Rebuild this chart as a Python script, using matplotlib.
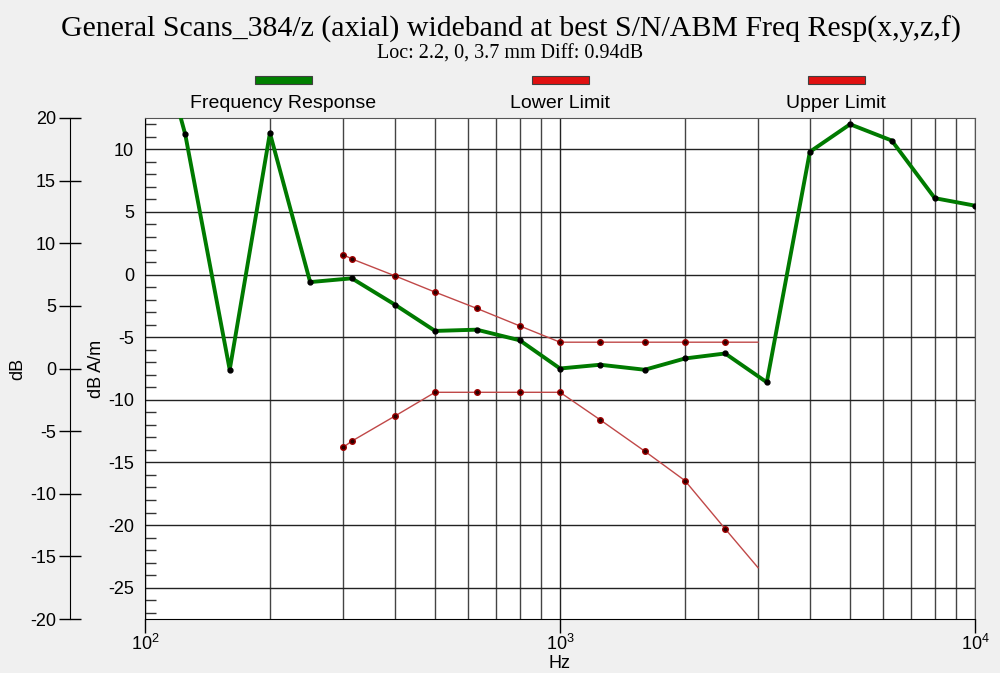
import matplotlib
matplotlib.use('Agg')
import matplotlib.pyplot as plt
from matplotlib.patches import Rectangle
from matplotlib.ticker import LogLocator, MultipleLocator, NullFormatter
import numpy as np

plt.rcParams['font.family'] = ['Liberation Sans', 'DejaVu Sans']
plt.rcParams['mathtext.fontset'] = 'custom'
plt.rcParams['mathtext.rm'] = 'Liberation Sans'
plt.rcParams['axes.unicode_minus'] = False

# 1/3 octave frequency response (dB A/m)
freq_resp_hz = [100, 125, 160, 200, 250, 315, 400, 500, 630, 800, 1000,
                1250, 1600, 2000, 2500, 3150, 4000, 5000, 6300, 8000, 10000]
freq_resp_db = [23.0, 11.2, -7.6, 11.3, -0.6, -0.3, -2.4, -4.5, -4.4, -5.25, -7.5,
                -7.2, -7.6, -6.7, -6.3, -8.6, 9.8, 12.0, 10.7, 6.1, 5.5]

# tolerance limits
limit_hz = [300, 315, 400, 500, 630, 800, 1000, 1250, 1600, 2000, 2500, 3000]
upper_db = [1.6, 1.25, -0.1, -1.4, -2.7, -4.1, -5.4, -5.4, -5.4, -5.4, -5.4, -5.4]
lower_db = [-13.8, -13.3, -11.3, -9.4, -9.4, -9.4, -9.4, -11.6, -14.1, -16.45, -20.3, -23.4]

legend_names = ['Frequency Response', 'Lower Limit', 'Upper Limit']
legend_colors = ['#008000', '#e01010', '#e01010']

title = 'General Scans_384/z (axial) wideband at best S/N/ABM Freq Resp(x,y,z,f)'
subtitle = 'Loc: 2.2, 0, 3.7 mm Diff: 0.94dB'

W, H = 1000, 673
fig = plt.figure(figsize=(W / 100, H / 100), dpi=100, facecolor='#f0f0f0')
ax = fig.add_axes([145 / W, 1 - 619 / H, 830 / W, 501 / H])
ax.set_facecolor('white')

ax.set_xscale('log')
ax.set_xlim(100, 10000)
ax.set_ylim(-27.5, 12.5)

# grid
ax.xaxis.set_major_locator(LogLocator(base=10))
ax.xaxis.set_minor_locator(LogLocator(base=10, subs=np.arange(2, 10)))
ax.xaxis.set_minor_formatter(NullFormatter())
ax.grid(True, which='major', axis='x', color='#222222', lw=1)
ax.grid(True, which='minor', axis='x', color='#444444', lw=1)
ax.yaxis.set_major_locator(MultipleLocator(5))
ax.yaxis.set_minor_locator(MultipleLocator(1))
ax.grid(True, which='major', axis='y', color='#222222', lw=1)
ax.set_axisbelow(True)

ax.tick_params(axis='x', which='major', direction='out', length=10, width=1,
               labelsize=13, pad=1)
ax.tick_params(axis='x', which='minor', length=0)
ax.tick_params(axis='y', which='major', direction='in', length=0, labelsize=13, pad=8)
ax.tick_params(axis='y', which='minor', direction='in', length=8, width=1, color='#333333')

for s in ['top', 'right']:
    ax.spines[s].set_color('#555555')
for s in ['left', 'bottom']:
    ax.spines[s].set_color('black')

# data
ax.plot(limit_hz, upper_db, color='#c04848', lw=1, marker='o', ms=4,
        markerfacecolor='#2a0000', markeredgecolor='#a00000',
        markevery=list(range(len(limit_hz) - 1)), zorder=3)
ax.plot(limit_hz, lower_db, color='#c04848', lw=1, marker='o', ms=4,
        markerfacecolor='#2a0000', markeredgecolor='#a00000',
        markevery=list(range(len(limit_hz) - 1)), zorder=3)
ax.plot(freq_resp_hz, freq_resp_db, color='#007a00', lw=2.8, marker='o', ms=3.5,
        markerfacecolor='black', markeredgecolor='black', zorder=4)

# x label sits just under the 10^3 label, near the bottom edge
fig.text(560 / W, 1 - 664 / H, 'Hz', ha='center', va='center', fontsize=13)
ax.set_ylabel('dB A/m', fontsize=13, labelpad=2)

# outer dB axis
sec = ax.secondary_yaxis(-75 / 830, functions=(lambda y: y + 7.5, lambda y: y - 7.5))
sec.set_yticks(np.arange(-20, 21, 5))
sec.tick_params(direction='inout', length=16, width=1, labelsize=13, pad=2)
sec.spines['left'].set_color('black')
sec.set_ylabel('dB', fontsize=13, labelpad=3)

# titles
fig.text(0.511, 1 - 29 / H, title, ha='center', va='center',
         family='Liberation Serif', fontsize=21.5)
fig.text(0.51, 1 - 54 / H, subtitle, ha='center', va='center',
         family='Liberation Serif', fontsize=14.5)

# legend
legend_x = [283, 560, 836]
for x, name, c in zip(legend_x, legend_names, legend_colors):
    fig.patches.append(Rectangle(((x - 28) / W, 1 - 84 / H), 57 / W, 8 / H,
                                 transform=fig.transFigure, facecolor=c,
                                 edgecolor='#404040', lw=0.8))
    fig.text(x / W, 1 - 103 / H, name, ha='center', va='center', fontsize=14)

fig.savefig('out.png', dpi=100, facecolor=fig.get_facecolor())
